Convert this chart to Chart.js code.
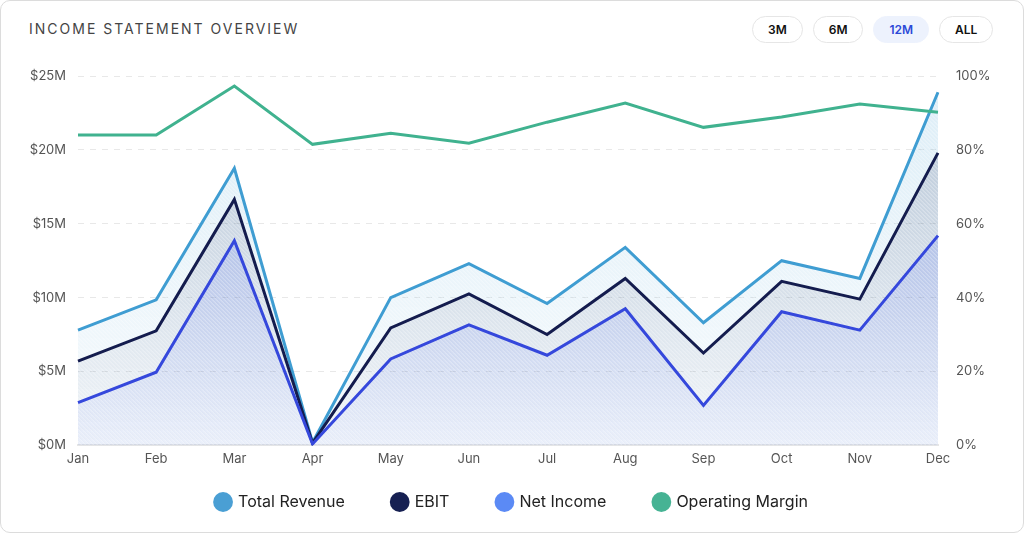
<!DOCTYPE html>
<html>
<head>
<meta charset="utf-8">
<script src="https://cdn.jsdelivr.net/npm/chart.js@4.4.1/dist/chart.umd.min.js"></script>
<style>
    html, body { margin: 0; padding: 0; background: #fff; }
    body { width: 1024px; height: 533px; overflow: hidden; font-family: Inter, "Noto Sans", sans-serif; }
    .card {
        position: absolute; left: 0; top: 0; width: 1022px; height: 531px;
        border: 1px solid #dcdcdc; border-radius: 10px; background: #fff;
    }
    .title {
        position: absolute; left: 29px; top: 20px;
        font-size: 14px; letter-spacing: 2px; color: #444; font-weight: 400;
    }
    .btns { position: absolute; top: 16px; left: 752px; display: flex; gap: 10px; }
    .btns span {
        display: inline-block; height: 25px; line-height: 25px; padding: 0 15px;
        border: 1px solid #e6e6e6; border-radius: 14px; font-size: 12px; font-weight: 600; color: #111;
    }
    .btns span.active { background: #edf2fd; border-color: #edf2fd; color: #2c49d8; }
    .wrap { position: absolute; left: 0; top: 50px; width: 1024px; height: 483px; }
</style>
</head>
<body>
<div class="card"></div>
<div class="title">INCOME STATEMENT OVERVIEW</div>
<div class="btns"><span>3M</span><span>6M</span><span class="active">12M</span><span>ALL</span></div>
<div class="wrap"><canvas id="incomeChart"></canvas></div>
<script>
const months = ['Jan', 'Feb', 'Mar', 'Apr', 'May', 'Jun', 'Jul', 'Aug', 'Sep', 'Oct', 'Nov', 'Dec'];
// values in $M
const totalRevenue = [7.8, 9.85, 18.75, 0.2, 10.0, 12.3, 9.6, 13.4, 8.3, 12.5, 11.3, 23.9];
const ebit = [5.7, 7.75, 16.65, 0.15, 7.95, 10.25, 7.5, 11.3, 6.25, 11.1, 9.9, 19.8];
const netIncome = [2.9, 4.95, 13.85, 0.1, 5.85, 8.15, 6.1, 9.25, 2.7, 9.05, 7.8, 14.2];
// percent
const operatingMargin = [84, 84, 97.3, 81.5, 84.5, 81.8, 87.5, 92.7, 86.1, 88.9, 92.4, 90.2];
const legendDots = ['#4a9fd4', '#162052', '#5b8af5', '#46b394'];

// vertical gradient fill for an area, made at draw time
function areaFill(top, bottom) {
    return (context) => {
        const area = context.chart.chartArea;
        if (!area) return bottom;
        const g = context.chart.ctx.createLinearGradient(0, area.top, 0, area.bottom);
        g.addColorStop(0, top);
        g.addColorStop(1, bottom);
        return g;
    };
}

// thin diagonal hatching over the filled areas (fills are drawn before the lines)
const hatchPlugin = {
    id: 'hatch',
    beforeDatasetsDraw(chart) {
        const { ctx, chartArea } = chart;
        const meta = chart.getDatasetMeta(0);
        if (!meta.data.length) return;
        ctx.save();
        ctx.beginPath();
        ctx.moveTo(meta.data[0].x, chartArea.bottom);
        meta.data.forEach(p => ctx.lineTo(p.x, p.y));
        ctx.lineTo(meta.data[meta.data.length - 1].x, chartArea.bottom);
        ctx.closePath();
        ctx.clip();
        ctx.strokeStyle = 'rgba(255,255,255,0.45)';
        ctx.lineWidth = 1;
        const h = chartArea.height;
        for (let x = chartArea.left - h; x < chartArea.right; x += 4) {
            ctx.beginPath();
            ctx.moveTo(x, chartArea.top);
            ctx.lineTo(x + h, chartArea.bottom);
            ctx.stroke();
        }
        ctx.restore();
    },
};

// keep the legend box short, then draw its row a bit higher up
const legendFit = {
    id: 'legendFit',
    beforeInit(chart) {
        const fit = chart.legend.fit;
        chart.legend.fit = function () {
            fit.call(this);
            this.height = 60;
        };
    },
    afterLayout(chart) {
        chart.legend.top = 396;
    },
};

const ctx = document.getElementById('incomeChart').getContext('2d');
const incomeChart = new Chart(ctx, {
    type: 'line',
    data: {
        labels: months,
        datasets: [
            {
                label: 'Total Revenue',
                data: totalRevenue,
                borderColor: '#3f9dd2',
                backgroundColor: areaFill('rgba(63,157,210,0.18)', 'rgba(63,157,210,0.04)'),
                fill: 'origin',
                order: 3,
            },
            {
                label: 'EBIT',
                data: ebit,
                borderColor: '#141c4e',
                backgroundColor: areaFill('rgba(20,28,78,0.2)', 'rgba(20,28,78,0.02)'),
                fill: 'origin',
                order: 2,
            },
            {
                label: 'Net Income',
                data: netIncome,
                borderColor: '#3548dc',
                backgroundColor: areaFill('rgba(75,105,245,0.3)', 'rgba(75,105,245,0.06)'),
                fill: 'origin',
                order: 1,
            },
            {
                label: 'Operating Margin',
                data: operatingMargin,
                borderColor: '#40b28f',
                backgroundColor: '#40b28f',
                fill: false,
                yAxisID: 'y1',
                order: 0,
            },
        ],
    },
    options: {
        responsive: true,
        maintainAspectRatio: false,
        animation: false,
        elements: {
            line: { borderWidth: 3, tension: 0, borderJoinStyle: 'miter' },
            point: { radius: 0 },
        },
        layout: { padding: { top: 26, left: 0, right: 0, bottom: 0 } },
        plugins: {
            filler: { drawTime: 'beforeDatasetsDraw' },
            tooltip: { enabled: false },
            legend: {
                position: 'bottom',
                labels: {
                    usePointStyle: true,
                    pointStyle: 'circle',
                    boxWidth: 14,
                    boxHeight: 14,
                    padding: 48,
                    color: '#222',
                    font: { family: 'Inter', size: 16 },
                    generateLabels(chart) {
                        return chart.data.datasets.map((ds, i) => ({
                            text: ds.label,
                            fillStyle: legendDots[i],
                            strokeStyle: legendDots[i],
                            lineWidth: 0,
                            pointStyle: 'circle',
                            datasetIndex: i,
                            fontColor: '#222',
                        }));
                    },
                },
            },
        },
        scales: {
            x: {
                offset: false,
                grid: { display: false, drawTicks: false },
                border: { color: '#e6e6e6', width: 2 },
                ticks: { color: '#555', font: { family: 'Inter', size: 13 }, padding: 6 },
            },
            y: {
                position: 'left',
                min: 0,
                max: 25,
                ticks: {
                    stepSize: 5,
                    color: '#555',
                    font: { family: 'Inter', size: 13 },
                    padding: 12,
                    callback: v => '$' + v + 'M',
                },
                grid: { color: '#e8e8e8', drawTicks: false },
                border: { display: false, dash: [6, 6] },
                afterFit: s => { s.width = 78; },
            },
            y1: {
                position: 'right',
                min: 0,
                max: 100,
                ticks: {
                    stepSize: 20,
                    color: '#555',
                    font: { family: 'Inter', size: 13 },
                    padding: 18,
                    callback: v => v + '%',
                },
                grid: { display: false, drawTicks: false },
                border: { display: false },
                afterFit: s => { s.width = 86; },
            },
        },
    },
    plugins: [legendFit, hatchPlugin],
});
</script>
</body>
</html>
